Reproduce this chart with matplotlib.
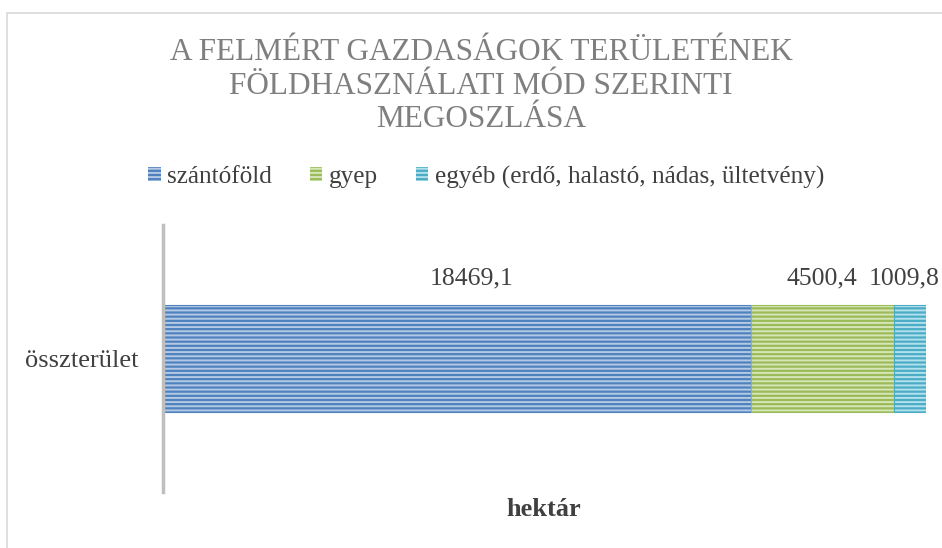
import matplotlib.pyplot as plt
from matplotlib.patches import Rectangle

# data
category = ["összterület"]
series = ["szántóföld", "gyep", "egyéb (erdő, halastó, nádas, ültetvény)"]
values = [18469.1, 4500.4, 1009.8]
value_labels = ["18469,1", "4500,4", "1009,8"]
colors = ["#4f81bd", "#9bbb59", "#4bacc6"]
stripe_colors = ["#b4c9e6", "#d6e6b8", "#b2e0ec"]
label_shift = [15, 0, -6]  # px nudges of the data labels, as in the original

plt.rcParams['font.family'] = ['Liberation Serif', 'DejaVu Serif']
plt.rcParams['hatch.linewidth'] = 1.4

fig = plt.figure(figsize=(9.42, 5.48), dpi=100)
ax = fig.add_axes([163 / 942, 1 - 492 / 548, (926 - 163) / 942, 267 / 548])

# chart frame
fig.patches.append(Rectangle((7 / 942, -0.1), 1.2, 1 - 13 / 548 + 0.1,
                             transform=fig.transFigure, fill=False,
                             edgecolor="#d9d9d9", linewidth=1.2))

left = 0
for name, v, lab, c, sc, dx in zip(series, values, value_labels, colors, stripe_colors, label_shift):
    ax.barh(category, v, left=left, height=0.4, color=c, edgecolor=sc,
            hatch='----', linewidth=0, label=name)
    ax.barh(category, v, left=left, height=0.4, fill=False, edgecolor=c, linewidth=0.8)
    ax.annotate(lab, (left + v / 2, 0.30), xytext=(dx * 0.72, 0), textcoords='offset points',
                ha='center', va='center', fontsize=18.5, color='#404040')
    left += v

ax.set_xlim(0, sum(values))
ax.set_ylim(-0.5, 0.5)
for s in ['top', 'right', 'bottom']:
    ax.spines[s].set_visible(False)
ax.spines['left'].set_color('#bfbfbf')
ax.spines['left'].set_linewidth(2.5)
ax.set_xticks([])
ax.tick_params(axis='y', length=0, labelsize=19, labelcolor='#404040', pad=18)

fig.text(544 / 942, 1 - 510 / 548, "hektár", ha='center', va='center',
         fontsize=19, fontweight='bold', color='#404040')

fig.text(481 / 942, 1 - 86 / 548,
         "A FELMÉRT GAZDASÁGOK TERÜLETÉNEK\nFÖLDHASZNÁLATI MÓD SZERINTI\nMEGOSZLÁSA",
         ha='center', va='center', fontsize=22.5, color='#7f7f7f', linespacing=1.22)

handles, labels = ax.get_legend_handles_labels()
fig.legend(handles, labels, loc='center', bbox_to_anchor=(486 / 942, 1 - 177 / 548),
           ncol=3, frameon=False, fontsize=18.2, handlelength=0.5, handleheight=0.5,
           handletextpad=0.25, columnspacing=1.5, labelcolor='#404040')

fig.savefig("out.png", dpi=100)
